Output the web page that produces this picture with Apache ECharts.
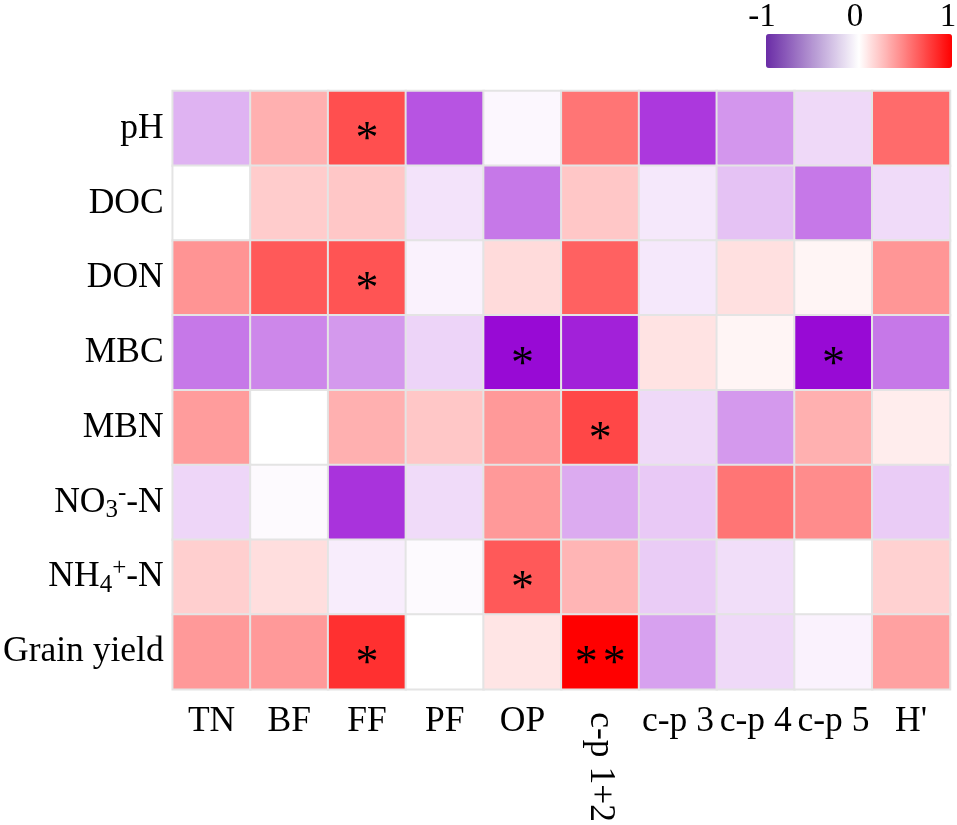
<!DOCTYPE html>
<html><head><meta charset="utf-8">
<script src="https://cdn.jsdelivr.net/npm/echarts@6/dist/echarts.min.js"></script>
<style>html,body{margin:0;padding:0;background:#fff}#c{width:957px;height:825px}</style>
</head><body><div id="c"></div>
<script>
// Categories
const rowLabels = ['pH', 'DOC', 'DON', 'MBC', 'MBN', 'NO{b|3}{p|-}-N', 'NH{b|4}{p|+}-N', 'Grain yield'];
const colLabels = ['TN', 'BF', 'FF', 'PF', 'OP', 'c-p 1+2', 'c-p 3', 'c-p 4', 'c-p 5', "H'"];
const rotatedCol = 'c-p 1+2';

// Correlation coefficients per row (order of colLabels)
const vPH    = [-0.30, 0.31, 0.69, -0.67, -0.03, 0.54, -0.78, -0.41, -0.15, 0.58];
const vDOC   = [0.00, 0.20, 0.22, -0.11, -0.53, 0.22, -0.09, -0.24, -0.53, -0.14];
const vDON   = [0.42, 0.65, 0.67, -0.05, 0.14, 0.62, -0.09, 0.12, 0.04, 0.41];
const vMBC   = [-0.53, -0.47, -0.40, -0.17, -0.96, -0.87, 0.11, 0.04, -0.96, -0.53];
const vMBN   = [0.39, 0.00, 0.31, 0.22, 0.40, 0.72, -0.15, -0.40, 0.31, 0.07];
const vNO3   = [-0.16, -0.02, -0.80, -0.14, 0.40, -0.33, -0.21, 0.54, 0.45, -0.20];
const vNH4   = [0.19, 0.13, -0.07, -0.02, 0.65, 0.29, -0.20, -0.13, 0.00, 0.18];
const vYield = [0.40, 0.40, 0.81, 0.00, 0.10, 1.00, -0.37, -0.15, -0.05, 0.37];
const rowValues = [vPH, vDOC, vDON, vMBC, vMBN, vNO3, vNH4, vYield];

// Significance marks: [row index, col index, mark]
const sigMarks = [[0, 2, '*'], [2, 2, '*'], [3, 4, '*'], [3, 8, '*'], [4, 5, '*'], [6, 4, '*'], [7, 2, '*'], [7, 5, '**']];

// Colour scale ticks
const legendTicks = [-1, 0, 1];

const data = [];
rowValues.forEach((vals, r) => vals.forEach((v, c) => data.push([c, r, v])));
const sigLookup = {};
sigMarks.forEach(([r, c, m]) => { sigLookup[c + '_' + r] = m; });

const FONT = 'Liberation Serif';
const chart = echarts.init(document.getElementById('c'));

const barLeft = 766, barTop = 34, barLen = 186, barThick = 34;
const tMin = legendTicks[0], tMax = legendTicks[legendTicks.length - 1];

chart.setOption({
  backgroundColor: '#fff',
  animation: false,
  grid: { left: 172, top: 91, width: 778, height: 603 },
  xAxis: [
    {
      type: 'category', data: colLabels, position: 'bottom',
      axisLine: { show: false }, axisTick: { show: false }, splitLine: { show: false },
      axisLabel: { interval: 0, margin: 14, fontSize: 35.5, fontFamily: FONT, color: '#000',
        formatter: v => v === rotatedCol ? '' : v }
    },
    {
      type: 'category', data: colLabels, position: 'bottom', gridIndex: 0,
      axisLine: { show: false }, axisTick: { show: false }, splitLine: { show: false },
      axisLabel: { interval: 0, margin: 23, rotate: -90, fontSize: 35.5, fontFamily: FONT, color: '#000',
        formatter: v => v === rotatedCol ? v : '' }
    }
  ],
  yAxis: {
    type: 'category', data: rowLabels, inverse: true,
    axisLine: { show: false }, axisTick: { show: false }, splitLine: { show: false },
    axisLabel: {
      interval: 0, margin: 9, fontSize: 35.5, lineHeight: 42, fontFamily: FONT, color: '#000',
      rich: {
        b: { fontSize: 25, lineHeight: 22, verticalAlign: 'bottom', fontFamily: FONT, color: '#000' },
        p: { fontSize: 25, lineHeight: 22, verticalAlign: 'top', fontFamily: FONT, color: '#000' }
      }
    }
  },
  visualMap: [
    {
      type: 'continuous', min: -1, max: 1, show: false, seriesIndex: 0,
      inRange: { color: ['#9400d3', '#ffffff', '#ff0000'] }
    },
    {
      type: 'continuous', min: -1, max: 1, seriesIndex: 1, orient: 'horizontal',
      left: barLeft, top: barTop, itemWidth: barThick, itemHeight: barLen,
      calculable: false, padding: 0, hoverLink: false,
      inRange: { color: ['#6a2ca6', '#ffffff', '#ff0000'] }
    }
  ],
  graphic: legendTicks.map(t => ({
    type: 'text',
    x: barLeft + (t - tMin) / (tMax - tMin) * barLen - 4,
    y: 34,
    style: { text: String(t), align: 'center', verticalAlign: 'bottom', fontSize: 33, fontFamily: FONT, fill: '#000' }
  })),
  series: [
    {
      type: 'heatmap', data: data,
      itemStyle: { borderColor: '#e4e4e4', borderWidth: 2 },
      label: {
        show: true, offset: [0, 13], color: '#000',
        formatter: p => {
          const m = sigLookup[p.data[0] + '_' + p.data[1]];
          return m ? m.split('').map(ch => '{s|' + ch + '}').join('') : '';
        },
        rich: { s: { fontSize: 46, fontFamily: FONT, color: '#000', padding: [0, 2.5] } }
      },
      emphasis: { disabled: true }
    },
    { type: 'heatmap', data: [] }
  ]
});
</script>
</body></html>
